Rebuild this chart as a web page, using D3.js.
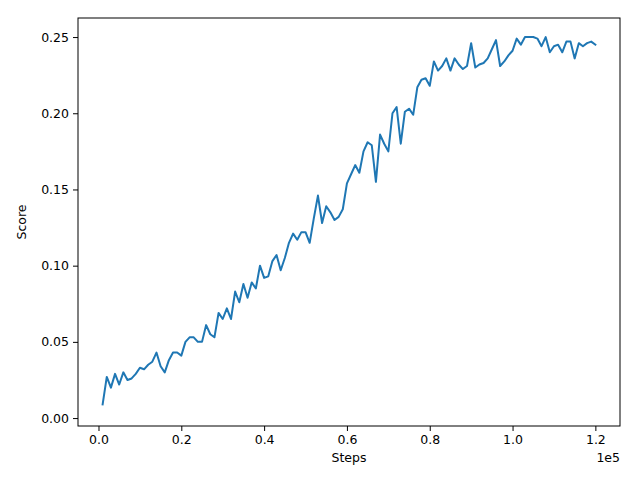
<!DOCTYPE html>
<html>
<head>
<meta charset="utf-8">
<script src="https://cdn.jsdelivr.net/npm/d3@7"></script>
<style>
  body { margin: 0; background: #fff; }
  text { font-family: "DejaVu Sans", sans-serif; }
</style>
</head>
<body>
<div id="chart"></div>
<script>
// steps in units of 1000
var steps = d3.range(1, 121).map(k => k * 1000);

var scores = [
  0.009, 0.027, 0.020, 0.029, 0.022, 0.030, 0.025, 0.026, 0.029, 0.033,
  0.032, 0.035, 0.037, 0.043, 0.034, 0.030, 0.038, 0.043, 0.043, 0.041,
  0.050, 0.053, 0.053, 0.050, 0.050, 0.061, 0.055, 0.053, 0.069, 0.065,
  0.072, 0.065, 0.083, 0.076, 0.088, 0.079, 0.089, 0.085, 0.100, 0.092,
  0.093, 0.103, 0.107, 0.097, 0.105, 0.115, 0.121, 0.117, 0.122, 0.122,
  0.115, 0.131, 0.146, 0.128, 0.139, 0.135, 0.130, 0.132, 0.137, 0.154,
  0.160, 0.166, 0.161, 0.175, 0.181, 0.179, 0.155, 0.186, 0.180, 0.175,
  0.200, 0.204, 0.180, 0.201, 0.203, 0.199, 0.217, 0.222, 0.223, 0.218,
  0.234, 0.228, 0.231, 0.236, 0.228, 0.236, 0.232, 0.229, 0.231, 0.246,
  0.230, 0.232, 0.233, 0.236, 0.242, 0.248, 0.231, 0.234, 0.238, 0.241,
  0.249, 0.245, 0.250, 0.250, 0.250, 0.249, 0.244, 0.250, 0.240, 0.244,
  0.245, 0.240, 0.247, 0.247, 0.236, 0.246, 0.244, 0.246, 0.247, 0.245
];

var xTicks = [0, 20000, 40000, 60000, 80000, 100000, 120000];
var yTicks = [0.00, 0.05, 0.10, 0.15, 0.20, 0.25];
var yDomain = [-0.0052, 0.2625];

var data = steps.map((s, i) => ({ step: s, score: scores[i] }));

var W = 640, H = 480;
var margin = { top: 18, left: 78, bottom: 54, right: 20 },
    width = W - margin.left - margin.right,
    height = H - margin.top - margin.bottom;

var svg = d3.select('#chart').append('svg')
    .attr('width', W)
    .attr('height', H)
    .append('g')
    .attr('transform', 'translate(' + margin.left + ',' + margin.top + ')');

// matplotlib style 5% padding
function pad(ext) {
    var m = (ext[1] - ext[0]) * 0.05;
    return [ext[0] - m, ext[1] + m];
}

var x = d3.scaleLinear()
    .domain(pad(d3.extent(steps)))
    .range([0, width]);

var y = d3.scaleLinear()
    .domain(yDomain)
    .range([height, 0]);

var fs = '12.5px';

var xAxis = d3.axisBottom(x)
    .tickValues(xTicks)
    .tickSize(5)
    .tickPadding(4)
    .tickFormat(d => (d / 1e5).toFixed(1));

var yAxis = d3.axisLeft(y)
    .tickValues(yTicks)
    .tickSize(5)
    .tickPadding(4)
    .tickFormat(d3.format('.2f'));

var gx = svg.append('g')
    .attr('transform', 'translate(0,' + height + ')')
    .call(xAxis);

var gy = svg.append('g')
    .call(yAxis);

[gx, gy].forEach(g => {
    g.select('.domain').remove();
    g.selectAll('line').attr('stroke', '#000').attr('stroke-width', 1);
    g.selectAll('text')
        .attr('fill', '#000')
        .style('font-size', fs)
        .style('font-family', '"DejaVu Sans", sans-serif');
});

// line
var line = d3.line()
    .x(d => x(d.step))
    .y(d => y(d.score));

svg.append('path')
    .datum(data)
    .attr('fill', 'none')
    .attr('stroke', '#1f77b4')
    .attr('stroke-width', 2)
    .attr('stroke-linejoin', 'round')
    .attr('stroke-linecap', 'square')
    .attr('d', line);

// frame
svg.append('rect')
    .attr('x', 0)
    .attr('y', 0)
    .attr('width', width)
    .attr('height', height)
    .attr('fill', 'none')
    .attr('stroke', '#000')
    .attr('stroke-width', 1);

// labels
svg.append('text')
    .attr('x', width / 2)
    .attr('y', height + 36)
    .attr('text-anchor', 'middle')
    .style('font-size', fs)
    .text('Steps');

svg.append('text')
    .attr('x', width)
    .attr('y', height + 36)
    .attr('text-anchor', 'end')
    .style('font-size', fs)
    .text('1e5');

svg.append('text')
    .attr('transform', 'rotate(-90)')
    .attr('x', -height / 2)
    .attr('y', -margin.left + 26)
    .attr('text-anchor', 'middle')
    .style('font-size', fs)
    .text('Score');
</script>
</body>
</html>
